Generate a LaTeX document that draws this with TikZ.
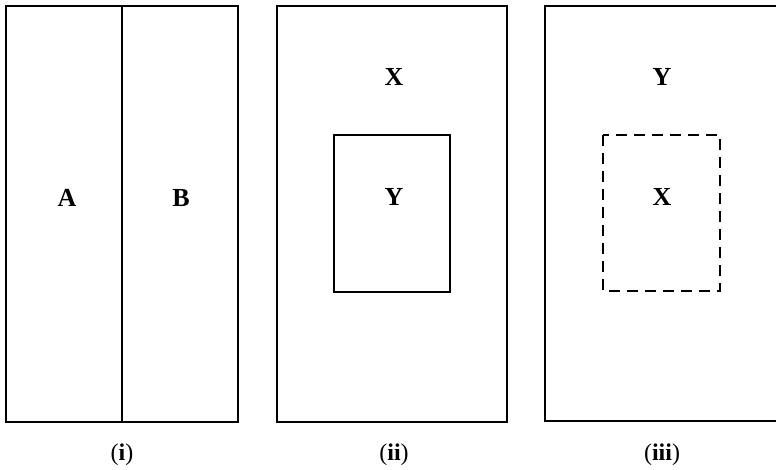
\documentclass[tikz,border=0pt]{standalone}
\usepackage{fontspec}
\setmainfont{Liberation Serif}
\begin{document}
\begin{tikzpicture}[x=1pt,y=-1pt,
  frame/.style={draw=black,line width=1.6pt},
  innerbox/.style={draw=black,line width=1.6pt},
  dashedinner/.style={draw=black,line width=2pt,dash pattern=on 11pt off 7pt},
  lbl/.style={font=\fontsize{26}{30}\selectfont\bfseries,inner sep=0pt},
  caplbl/.style={font=\fontsize{24}{28}\selectfont,inner sep=0pt}]
\useasboundingbox (0,0) rectangle (776,469);
% panel (i)
\draw[frame] (6,6) rectangle (238,422);
\draw[frame] (122,6) -- (122,422);
\node[lbl] (A) at (67,198) {A};
\node[lbl] (B) at (181,198) {B};
\node[caplbl] (c1) at (122,455) {(\textbf{i})};
% panel (ii)
\draw[frame] (277,6) rectangle (507,422);
\draw[innerbox] (334,135) rectangle (450,292);
\node[lbl] (X1) at (394,77) {X};
\node[lbl] (Y1) at (394,197) {Y};
\node[caplbl] (c2) at (394,455) {(\textbf{ii})};
% panel (iii)
\draw[frame] (545,6) rectangle (779,421);
\draw[dashedinner] (603,135) rectangle (720,291);
\node[lbl] (Y2) at (662,77) {Y};
\node[lbl] (X2) at (662,197) {X};
\node[caplbl] (c3) at (662,455) {(\textbf{iii})};
\end{tikzpicture}
\end{document}
